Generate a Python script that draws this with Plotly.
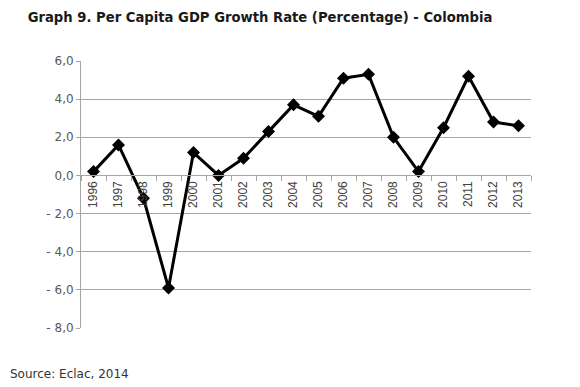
import plotly.graph_objects as go

years = [str(y) for y in range(1996, 2014)]
growth = [0.2, 1.6, -1.2, -5.9, 1.2, 0.0, 0.9, 2.3, 3.7, 3.1, 5.1, 5.3, 2.0, 0.2, 2.5, 5.2, 2.8, 2.6]
y_tickvals = [6, 4, 2, 0, -2, -4, -6, -8]
y_ticktext = ["6,0", "4,0", "2,0", "0,0", "- 2,0", "- 4,0", "- 6,0", "- 8,0"]

ymin, ymax = -8, 6

W, H = 572, 379
ML, MR, MT, MB = 73, 49, 53, 59
PW, PH = W - ML - MR, H - MT - MB

fig = go.Figure()
fig.add_trace(go.Scatter(
    x=years, y=growth, mode="lines+markers",
    line=dict(color="black", width=3),
    marker=dict(symbol="diamond", size=10, color="black"),
    showlegend=False, cliponaxis=False,
))

fig.update_layout(
    width=W, height=H,
    margin=dict(l=ML, r=MR, t=MT, b=MB),
    paper_bgcolor="white", plot_bgcolor="white",
    title=dict(text="<b>Graph 9. Per Capita GDP Growth Rate (Percentage) - Colombia</b>",
               x=252 / W, xanchor="center", y=1 - 9 / H, yanchor="middle",
               font=dict(family="DejaVu Sans", size=13.2, color="#1a1a1a")),
    xaxis=dict(
        type="category", range=[-0.5, 17.5],
        anchor="free", position=(0 - ymin) / (ymax - ymin),
        showline=True, linecolor="#a6a6a6", linewidth=1,
        ticks="outside", ticklen=5, tickcolor="#a6a6a6", tickson="boundaries",
        tickangle=-90, showgrid=False,
        tickfont=dict(family="Liberation Sans", size=12, color="#404040"),
    ),
    yaxis=dict(
        range=[ymin, ymax], tickvals=y_tickvals, ticktext=y_ticktext,
        showline=True, linecolor="#a6a6a6", linewidth=1,
        ticks="outside", ticklen=4, tickcolor="#a6a6a6",
        showgrid=True, gridcolor="#a6a6a6", gridwidth=1, zeroline=False,
        tickfont=dict(family="DejaVu Sans", size=12, color="#595959"),
    ),
    annotations=[dict(text="Source: Eclac, 2014", xref="paper", yref="paper",
                      x=-ML / PW, y=-46 / PH, xanchor="left", yanchor="middle",
                      showarrow=False,
                      font=dict(family="DejaVu Sans", size=12, color="#333333"))],
)

fig.write_html("out.html")
